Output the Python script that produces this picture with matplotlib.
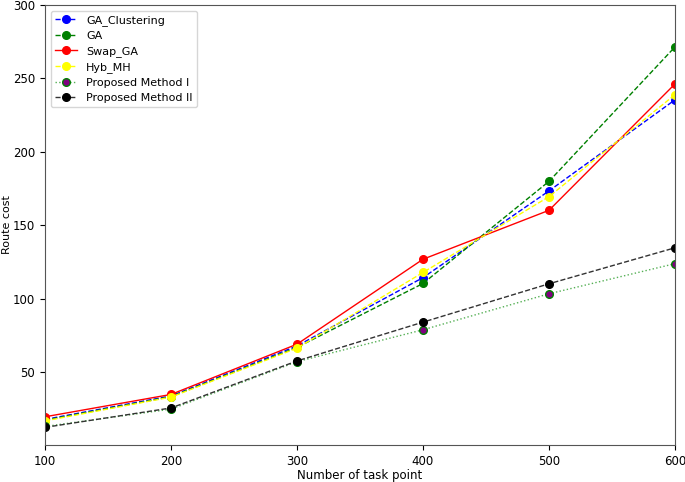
import numpy as np
import matplotlib.pyplot as plt

task_points = [100, 200, 300, 400, 500, 600]
ga_clustering = [18, 34, 68, 114.5, 173.5, 235.5]
ga = [17.5, 33.5, 67, 110.5, 180, 271.5]
swap_ga = [19.8, 35, 69.2, 127, 160.3, 246.3]
hyb_mh = [17, 33.2, 66.5, 118, 169.6, 239]
proposed_1 = [13.2, 25, 57.3, 79, 103.5, 124]
proposed_2 = [12.6, 25.8, 57.8, 84.2, 110.3, 134.8]

fig = plt.figure(figsize=(6.85, 4.82), dpi=100)
ax = fig.add_axes([45 / 685, 1 - 445 / 482, 630 / 685, 440 / 482])

ax.plot(task_points, ga_clustering, 'b--', marker='o', markersize=5.5, linewidth=1, label='GA_Clustering')
ax.plot(task_points, ga, 'g--', marker='o', markersize=5.5, linewidth=1, label='GA')
ax.plot(task_points, swap_ga, 'r-', marker='o', markersize=5.5, linewidth=1, label='Swap_GA')
ax.plot(task_points, hyb_mh, '--', color='yellow', marker='o', markersize=5.5, linewidth=1, label='Hyb_MH')
ax.plot(task_points, proposed_1, ':', color='#55b055', marker='o', markersize=5.5, linewidth=1,
        markerfacecolor='purple', markeredgecolor='green', label='Proposed Method I')
ax.plot(task_points, proposed_2, '--', color='#333333', marker='o', markersize=5.5, linewidth=1,
        markerfacecolor='black', markeredgecolor='black', label='Proposed Method II')

ax.set_xlim(100, 600)
ax.set_ylim(0.6, 300)
ax.set_yticks([50, 100, 150, 200, 250, 300])
ax.set_xlabel("Number of task point", fontsize=8.5, labelpad=1)
ax.set_ylabel("Route cost", fontsize=8)
ax.yaxis.set_label_coords(-0.053, 0.5)
ax.tick_params(labelsize=8.5)
for s in ax.spines.values():
    s.set_color('#555555')
ax.legend(loc='upper left', fontsize=8, labelspacing=0.45)

fig.savefig('out.png')
